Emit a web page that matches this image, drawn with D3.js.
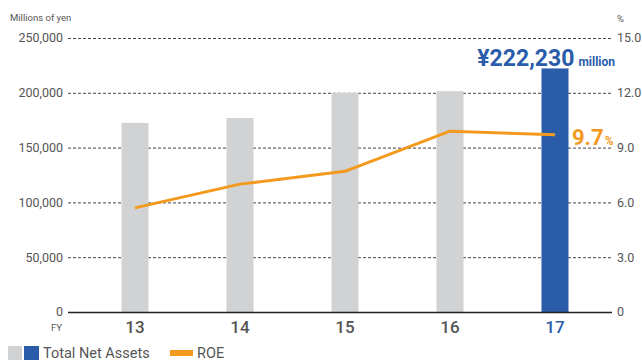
<!DOCTYPE html>
<html>
<head>
<meta charset="utf-8">
<script src="https://cdn.jsdelivr.net/npm/d3@7"></script>
<style>
  html, body { margin: 0; padding: 0; background: #fff; }
  svg { display: block; font-family: Roboto, "Noto Sans", sans-serif; }
</style>
</head>
<body>
<svg id="chart" width="642" height="362"></svg>
<script>
// Fiscal years and values
const years = ["13", "14", "15", "16", "17"];
const netAssets = [172500, 177000, 200000, 201500, 222230];   // millions of yen
const roe = [5.7, 7.0, 7.7, 9.9, 9.7];                         // %
const leftTicks = [0, 50000, 100000, 150000, 200000, 250000];
const rightTicks = [0, 3, 6, 9, 12, 15];

const grey = "#d1d2d4", blue = "#2a5caa", orange = "#f39a1e", textCol = "#555";

const svg = d3.select("#chart");
const plotL = 68, plotR = 612, plotT = 38, plotB = 312;

const x = d3.scalePoint().domain(years).range([82.5, 607.5]).padding(0.5);
const barW = 27;
const yL = d3.scaleLinear().domain([0, 250000]).range([plotB, plotT]);
const yR = d3.scaleLinear().domain([0, 15]).range([plotB, plotT]);

// dashed gridlines
svg.append("g").selectAll("line").data(leftTicks.filter(d => d > 0)).join("line")
  .attr("x1", plotL).attr("x2", plotR)
  .attr("y1", d => yL(d) + 0.5).attr("y2", d => yL(d) + 0.5)
  .attr("stroke", "#444").attr("stroke-width", 1).attr("stroke-dasharray", "3,2");

// left axis labels
const fmt = d3.format(",");
svg.append("g").selectAll("text").data(leftTicks).join("text")
  .attr("x", 63).attr("y", d => yL(d)).attr("dy", "0.35em")
  .attr("text-anchor", "end").attr("font-size", 12.5).attr("fill", textCol)
  .text(d => fmt(d));

// right axis labels
svg.append("g").selectAll("text").data(rightTicks).join("text")
  .attr("x", 617).attr("y", d => yR(d)).attr("dy", "0.35em")
  .attr("text-anchor", "start").attr("font-size", 12.5).attr("fill", textCol)
  .text(d => d === 0 ? "0" : d.toFixed(1));

svg.append("text").attr("x", 10).attr("y", 21).attr("font-size", 9.5).attr("fill", textCol).text("Millions of yen");
svg.append("text").attr("x", 617).attr("y", 22).attr("font-size", 9.5).attr("fill", textCol).text("%");

// bars
svg.append("g").selectAll("rect").data(netAssets).join("rect")
  .attr("x", (d, i) => x(years[i]) - barW / 2)
  .attr("width", barW)
  .attr("y", d => yL(d))
  .attr("height", d => plotB - yL(d))
  .attr("fill", (d, i) => i === years.length - 1 ? blue : grey);

// baseline
svg.append("line").attr("x1", plotL).attr("x2", plotR)
  .attr("y1", plotB + 0.5).attr("y2", plotB + 0.5)
  .attr("stroke", "#222").attr("stroke-width", 1.5);

// ROE line
const line = d3.line().x((d, i) => x(years[i])).y(d => yR(d));
svg.append("path").datum(roe).attr("d", line)
  .attr("fill", "none").attr("stroke", orange).attr("stroke-width", 3)
  .attr("stroke-linejoin", "round");

// x labels
svg.append("g").selectAll("text").data(years).join("text")
  .attr("x", d => x(d)).attr("y", 333)
  .attr("text-anchor", "middle").attr("font-size", 17).attr("font-weight", 500)
  .attr("fill", (d, i) => i === years.length - 1 ? blue : textCol)
  .text(d => d);
svg.append("text").attr("x", 62).attr("y", 331).attr("text-anchor", "end")
  .attr("font-size", 9.5).attr("fill", textCol).text("FY");

// value annotations
const last = years.length - 1;
const a1 = svg.append("text").attr("x", 615).attr("y", 66).attr("text-anchor", "end")
  .attr("fill", blue).attr("font-weight", 700);
a1.append("tspan").attr("font-size", 23).text("¥" + fmt(netAssets[last]));
a1.append("tspan").attr("font-size", 12).attr("dx", 4).text("million");

const a2 = svg.append("text").attr("x", 572).attr("y", 145)
  .attr("fill", orange).attr("font-weight", 700);
a2.append("tspan").attr("font-size", 22).text(roe[last].toFixed(1));
a2.append("tspan").attr("font-size", 12).attr("dx", 1).text("%");

// legend
const lg = svg.append("g");
lg.append("rect").attr("x", 8).attr("y", 346).attr("width", 14).attr("height", 14).attr("fill", grey);
lg.append("rect").attr("x", 24).attr("y", 346).attr("width", 15).attr("height", 14).attr("fill", blue);
lg.append("text").attr("x", 43).attr("y", 358).attr("font-size", 14.5).attr("fill", textCol).text("Total Net Assets");
lg.append("rect").attr("x", 170).attr("y", 350).attr("width", 23).attr("height", 6).attr("fill", orange);
lg.append("text").attr("x", 197).attr("y", 358).attr("font-size", 14.5).attr("fill", textCol).text("ROE");
</script>
</body>
</html>
